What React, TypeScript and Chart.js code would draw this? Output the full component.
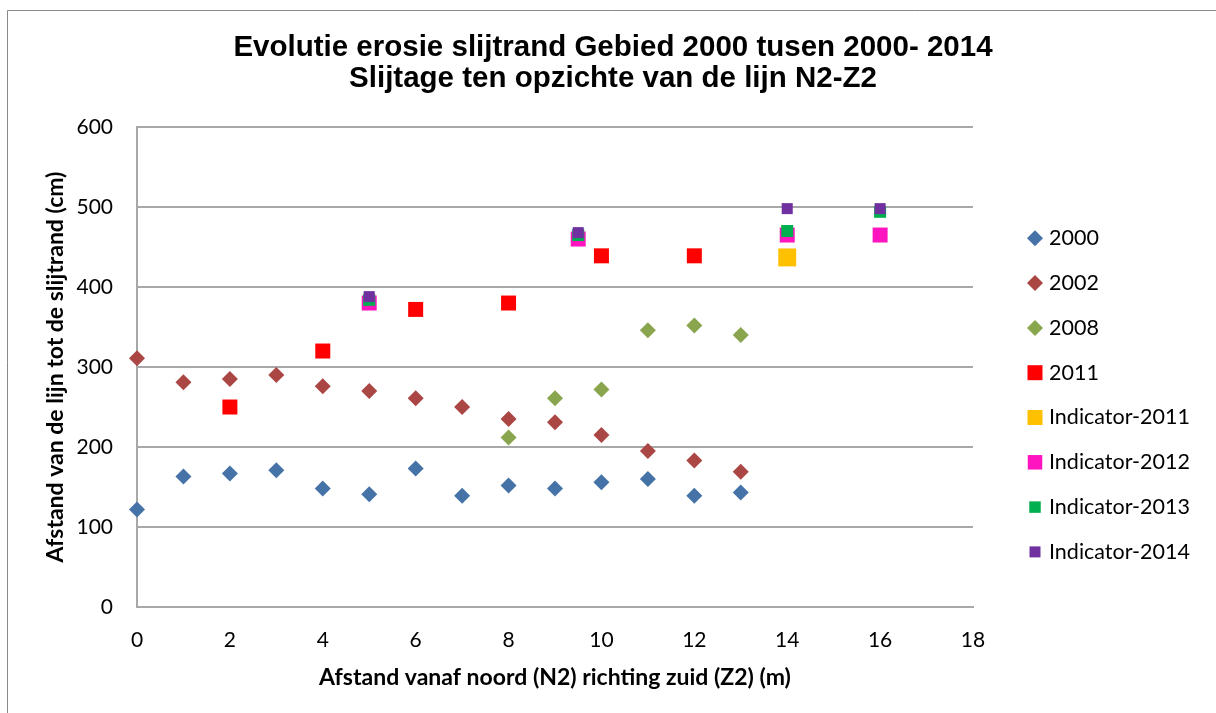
import React, { useEffect, useRef } from "react";
import { Chart, registerables } from "chart.js";

Chart.register(...registerables);

// ---- Data ----
const titleLines = [
  "Evolutie erosie slijtrand Gebied 2000 tusen 2000- 2014",
  "Slijtage ten opzichte van de lijn N2-Z2",
];
const xAxisTitle = "Afstand vanaf noord (N2) richting zuid (Z2) (m)";
const yAxisTitle = "Afstand van de lijn tot de slijtrand (cm)";

const seriesNames = [
  "2000",
  "2002",
  "2008",
  "2011",
  "Indicator-2011",
  "Indicator-2012",
  "Indicator-2013",
  "Indicator-2014",
];

const x2000 = [0, 1, 2, 3, 4, 5, 6, 7, 8, 9, 10, 11, 12, 13];
const y2000 = [122, 163, 167, 171, 148, 141, 173, 139, 152, 148, 156, 160, 139, 143];

const x2002 = [0, 1, 2, 3, 4, 5, 6, 7, 8, 9, 10, 11, 12, 13];
const y2002 = [311, 281, 285, 290, 276, 270, 261, 250, 235, 231, 215, 195, 183, 169];

const x2008 = [8, 9, 10, 11, 12, 13];
const y2008 = [212, 261, 272, 346, 352, 340];

const x2011 = [2, 4, 6, 8, 10, 12];
const y2011 = [250, 320, 372, 380, 439, 439];

const xInd2011 = [14];
const yInd2011 = [437];

const xInd2012 = [5, 9.5, 14, 16];
const yInd2012 = [380, 460, 465, 465];

const xInd2013 = [5, 9.5, 14, 16];
const yInd2013 = [384, 465, 470, 494];

const xInd2014 = [5, 9.5, 14, 16];
const yInd2014 = [388, 468, 498, 498];

const seriesX = [x2000, x2002, x2008, x2011, xInd2011, xInd2012, xInd2013, xInd2014];
const seriesY = [y2000, y2002, y2008, y2011, yInd2011, yInd2012, yInd2013, yInd2014];

const xTickStep = 2;
const xMin = 0;
const xMax = 18;
const yTickStep = 100;
const yMin = 0;
const yMax = 600;

// ---- Styles ----
const colors = ["#4572A7", "#AA4643", "#89A54E", "#FF0000", "#FFC000", "#FF15C0", "#00B050", "#7030A0"];
const pointStyles = ["rectRot", "rectRot", "rectRot", "rect", "rect", "rect", "rect", "rect"];
const pointRadii = [8, 8, 8, 10.6, 12.7, 10.6, 8.5, 7.8];
const legendMarkerSizes = [16, 16, 16, 15, 15, 14.5, 11.5, 11];

const W = 1216;
const H = 713;

const legendPlugin = {
  id: "customLegend",
  afterDraw(chart: any) {
    const ctx = chart.ctx;
    ctx.save();
    ctx.font = "21.5px Lato";
    ctx.textBaseline = "middle";
    ctx.textAlign = "left";
    const top = 238.3;
    const step = 44.8;
    const mx = 1035;
    const tx = 1049;
    chart.data.datasets.forEach((ds: any, i: number) => {
      const y = top + i * step;
      const s = legendMarkerSizes[i];
      ctx.fillStyle = ds.backgroundColor;
      ctx.beginPath();
      if (ds.pointStyle === "rectRot") {
        const h = s / 2;
        ctx.moveTo(mx - h, y);
        ctx.lineTo(mx, y - h);
        ctx.lineTo(mx + h, y);
        ctx.lineTo(mx, y + h);
        ctx.closePath();
      } else {
        ctx.rect(mx - s / 2, y - s / 2, s, s);
      }
      ctx.fill();
      ctx.fillStyle = "#000";
      ctx.fillText(ds.label, tx, y);
    });
    ctx.restore();
  },
};

const framePlugin = {
  id: "frame",
  beforeDraw(chart: any) {
    const ctx = chart.ctx;
    ctx.save();
    ctx.fillStyle = "#fff";
    ctx.fillRect(0, 0, chart.width, chart.height);
    ctx.strokeStyle = "#898989";
    ctx.lineWidth = 1;
    ctx.beginPath();
    ctx.moveTo(7.5, chart.height + 2);
    ctx.lineTo(7.5, 10.5);
    ctx.lineTo(chart.width + 2, 10.5);
    ctx.stroke();
    ctx.restore();
  },
};

export default function App() {
  const ref = useRef<HTMLCanvasElement | null>(null);

  useEffect(() => {
    if (!ref.current) return;
    const datasets = seriesNames.map((name, i) => ({
      label: name,
      data: seriesX[i].map((x, j) => ({ x, y: seriesY[i][j] })),
      backgroundColor: colors[i],
      borderColor: colors[i],
      pointStyle: pointStyles[i],
      pointRadius: pointRadii[i],
      pointHoverRadius: pointRadii[i],
      pointBorderWidth: 0,
      borderWidth: 0,
      showLine: false,
      clip: false,
      order: seriesNames.length - i,
    }));

    const chart = new Chart(ref.current, {
      type: "scatter",
      data: { datasets } as any,
      options: {
        animation: false,
        responsive: false,
        maintainAspectRatio: false,
        layout: { padding: { left: 10, right: 0, top: 0, bottom: 0 } },
        plugins: {
          legend: { display: false },
          tooltip: { enabled: false },
          title: {
            display: true,
            text: titleLines,
            color: "#000",
            font: { family: "'Liberation Sans', Arial, sans-serif", size: 29.5, weight: "bold", lineHeight: 1.06 },
            padding: { top: 32, bottom: 32.5 },
          },
        },
        scales: {
          x: {
            type: "linear",
            position: "bottom",
            min: xMin,
            max: xMax,
            afterFit: (s: any) => {
              s.height = 106;
            },
            ticks: {
              stepSize: xTickStep,
              color: "#000",
              font: { family: "Lato", size: 21 },
              padding: 21,
              maxRotation: 0,
            },
            grid: { display: false, drawTicks: false },
            border: { display: true, color: "#A8A8A8", width: 2 },
            title: {
              display: true,
              text: xAxisTitle,
              color: "#000",
              font: { family: "Lato", size: 23, weight: "bold" },
              padding: { top: 0, bottom: 22 },
            },
          },
          y: {
            type: "linear",
            position: "left",
            min: yMin,
            max: yMax,
            afterFit: (s: any) => {
              s.width = 127;
            },
            ticks: {
              stepSize: yTickStep,
              color: "#000",
              font: { family: "Lato", size: 21 },
              padding: 24,
            },
            grid: { display: true, drawTicks: false, color: "#A8A8A8", lineWidth: 2 },
            border: { display: true, color: "#A8A8A8", width: 2 },
            title: {
              display: true,
              text: yAxisTitle,
              color: "#000",
              font: { family: "Lato", size: 23, weight: "bold" },
              padding: { top: 32, bottom: 0 },
            },
          },
          legendSpace: {
            type: "linear",
            position: "right",
            display: true,
            afterFit: (s: any) => {
              s.width = 243;
            },
            ticks: { display: false },
            grid: { display: false, drawTicks: false },
            border: { display: false },
          },
        },
      } as any,
      plugins: [framePlugin, legendPlugin],
    });
    return () => chart.destroy();
  }, []);

  return (
    <div style={{ position: "fixed", left: 0, top: 0, width: W, height: H, background: "#fff" }}>
      <canvas ref={ref} width={W} height={H} style={{ display: "block" }} />
    </div>
  );
}
